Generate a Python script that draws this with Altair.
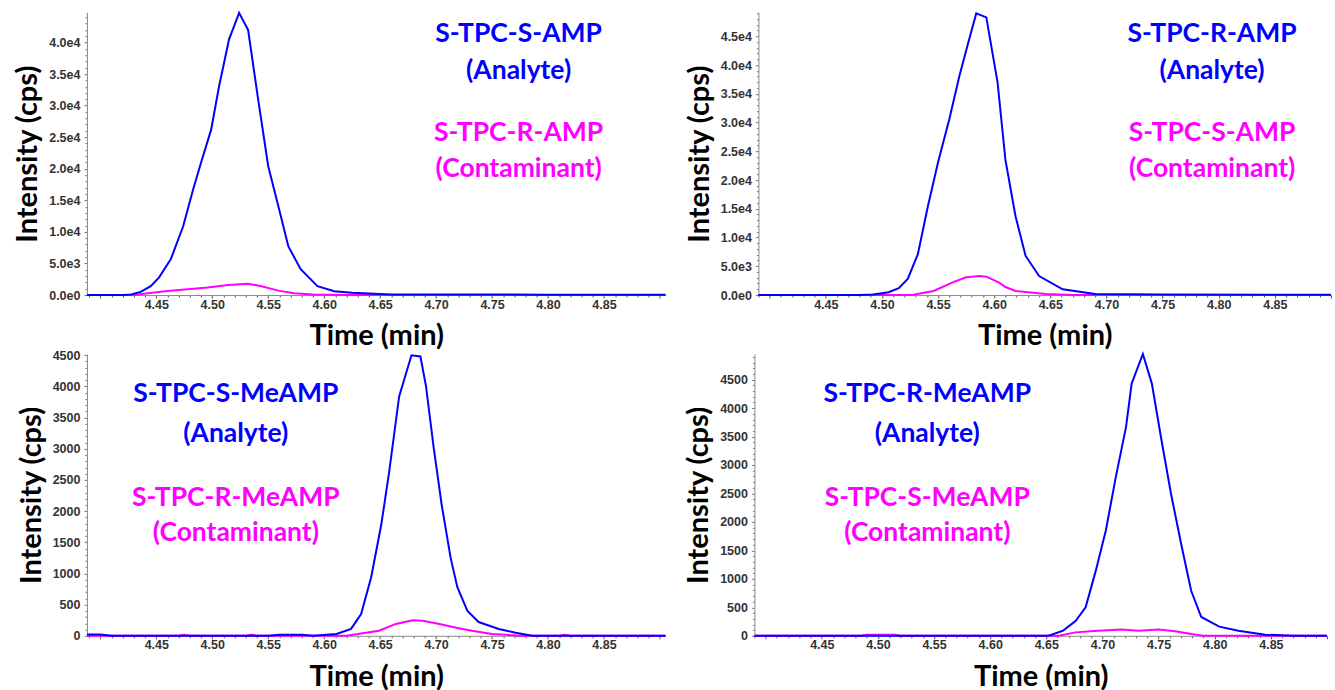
import altair as alt
import pandas as pd

# ---------------- data ----------------
# Panel 1: S-TPC-S-AMP (analyte) / S-TPC-R-AMP (contaminant)
p1_blue_t = [4.388, 4.42, 4.4275, 4.436, 4.445, 4.4525, 4.463, 4.474, 4.483, 4.49, 4.499, 4.506,
             4.515, 4.524, 4.532, 4.541, 4.55, 4.559, 4.568, 4.579, 4.594, 4.609, 4.625, 4.64,
             4.66, 4.70, 4.80, 4.905]
p1_blue_v = [0, 0, 100, 500, 1400, 2800, 5700, 10900, 16800, 21000, 26200, 33000,
             40500, 44700, 42000, 31000, 20400, 14100, 7700, 4100, 1400, 600, 350, 250,
             100, 80, 60, 50]
p1_pink_t = [4.388, 4.43, 4.448, 4.46, 4.478, 4.496, 4.514, 4.532, 4.544, 4.559, 4.573, 4.59, 4.62, 4.905]
p1_pink_v = [0, 0, 400, 650, 900, 1200, 1600, 1800, 1400, 700, 300, 80, 0, 0]

# Panel 2: S-TPC-R-AMP (analyte) / S-TPC-S-AMP (contaminant)
p2_blue_t = [4.39, 4.48, 4.492, 4.506, 4.515, 4.523, 4.532, 4.541, 4.55, 4.56, 4.569, 4.577,
             4.584, 4.593, 4.603, 4.61, 4.619, 4.628, 4.64, 4.661, 4.69, 4.75, 4.90]
p2_blue_v = [0, 0, 100, 500, 1200, 2800, 7100, 15500, 23100, 30600, 38100, 44000,
             49000, 48300, 37000, 23500, 13700, 6800, 3300, 1000, 200, 80, 50]
p2_pink_t = [4.39, 4.52, 4.528, 4.546, 4.563, 4.575, 4.587, 4.593, 4.604, 4.61, 4.619, 4.646, 4.67, 4.90]
p2_pink_v = [0, 0, 50, 700, 2200, 3100, 3300, 3200, 2200, 1400, 700, 170, 0, 0]

# Panel 3: S-TPC-S-MeAMP (analyte) / S-TPC-R-MeAMP (contaminant)
p3_blue_t = [4.388, 4.40, 4.41, 4.55, 4.56, 4.58, 4.59, 4.611, 4.624, 4.633, 4.642, 4.651, 4.658,
             4.667, 4.673, 4.678, 4.686, 4.691, 4.698, 4.705, 4.713, 4.719, 4.728, 4.738,
             4.756, 4.771, 4.786, 4.905]
p3_blue_v = [20, 20, 0, 0, 15, 15, 0, 30, 110, 350, 940, 1780, 2620,
             3840, 4200, 4500, 4480, 4000, 3000, 2100, 1250, 780, 400, 220,
             110, 50, 0, 0]
p3_pink_t = [4.388, 4.47, 4.475, 4.48, 4.53, 4.535, 4.54, 4.62, 4.649, 4.664, 4.679, 4.688,
             4.703, 4.718, 4.732, 4.75, 4.775, 4.81, 4.815, 4.82, 4.905]
p3_pink_v = [0, 0, 15, 0, 0, 15, 0, 0, 80, 190, 250, 240, 190, 130, 80, 30, 0, 0, 15, 0, 0]

# Panel 4: S-TPC-R-MeAMP (analyte) / S-TPC-S-MeAMP (contaminant)
p4_blue_t = [4.39, 4.652, 4.665, 4.676, 4.685, 4.694, 4.703, 4.712, 4.721, 4.726, 4.736, 4.744,
             4.752, 4.761, 4.77, 4.779, 4.788, 4.804, 4.821, 4.845, 4.87, 4.90]
p4_blue_v = [0, 0, 90, 260, 500, 1140, 1850, 2800, 3670, 4430, 4950, 4430,
             3500, 2500, 1620, 790, 330, 160, 90, 20, 0, 0]
p4_pink_t = [4.39, 4.485, 4.49, 4.515, 4.52, 4.661, 4.676, 4.696, 4.717, 4.732, 4.75, 4.765, 4.779, 4.79, 4.90]
p4_pink_v = [0, 0, 20, 20, 0, 0, 60, 90, 110, 90, 110, 80, 30, 0, 0]

labels_top_left = ["S-TPC-S-AMP", "(Analyte)", "S-TPC-R-AMP", "(Contaminant)"]
labels_top_right = ["S-TPC-R-AMP", "(Analyte)", "S-TPC-S-AMP", "(Contaminant)"]
labels_bot_left = ["S-TPC-S-MeAMP", "(Analyte)", "S-TPC-R-MeAMP", "(Contaminant)"]
labels_bot_right = ["S-TPC-R-MeAMP", "(Analyte)", "S-TPC-S-MeAMP", "(Contaminant)"]

x_ticks = [round(4.39 + 0.01 * i, 2) for i in range(52)]
y_ticks_top1 = list(range(0, 45000, 1000))
y_ticks_top2 = list(range(0, 50000, 1000))
y_ticks_bot = list(range(0, 5000, 100))

# ---------------- styling ----------------
BLUE = "#0000FF"
MAGENTA = "#FF00FF"
TITLE_FONT = "Lato"
TICK_FONT = "Liberation Sans"

x_major = "abs(datum.value*20 - round(datum.value*20)) < 0.001"
x_label = "(" + x_major + " && datum.value > 4.42 && datum.value < 4.88) ? format(datum.value, '.2f') : ''"


def y_label_expr(step, sci):
    if sci:
        return ("datum.value % " + str(step) + " == 0 ? (datum.value == 0 ? '0.0e0' : "
                "(datum.value < 10000 ? format(datum.value/1000, '.1f') + 'e3' : "
                "format(datum.value/10000, '.1f') + 'e4')) : ''")
    return "datum.value % " + str(step) + " == 0 ? format(datum.value, 'd') : ''"


def panel(bt, bv, pt, pv, xdom, ymax, w, h, yticks, ystep, sci, texts, cx, ys):
    xaxis = alt.Axis(
        title="Time (min)", values=x_ticks, labelExpr=x_label,
        tickSize={"condition": {"test": x_major, "value": 3}, "value": 2},
        labelFont=TICK_FONT, labelFontSize=12.5, labelFontWeight="bold", labelColor="#333333",
        labelPadding=0, titleFont=TITLE_FONT, titleFontSize=29, titleFontWeight="bold",
        titleColor="black", titlePadding=11, domainColor="#8a8a8a", tickColor="#555555",
        grid=False,
    )
    yaxis = alt.Axis(
        title="Intensity (cps)", values=yticks, labelExpr=y_label_expr(ystep, sci),
        tickSize={"condition": {"test": "datum.value % " + str(ystep) + " == 0", "value": 3}, "value": 2},
        labelFont=TICK_FONT, labelFontSize=12.5, labelFontWeight="bold", labelColor="#333333",
        labelPadding=4, titleFont=TITLE_FONT, titleFontSize=29, titleFontWeight="bold",
        titleColor="black", titlePadding=6, domainColor="#8a8a8a", tickColor="#777777",
        grid=False,
    )
    xs = alt.Scale(domain=xdom, nice=False, zero=False)
    yscale = alt.Scale(domain=[0, ymax], nice=False)
    dfb = pd.DataFrame({"t": bt, "v": bv})
    dfp = pd.DataFrame({"t": pt, "v": pv})
    pink = alt.Chart(dfp).mark_line(color=MAGENTA, strokeWidth=2).encode(
        x=alt.X("t:Q", scale=xs, axis=xaxis),
        y=alt.Y("v:Q", scale=yscale, axis=yaxis),
    )
    blue = alt.Chart(dfb).mark_line(color=BLUE, strokeWidth=2).encode(
        x=alt.X("t:Q", scale=xs, axis=xaxis),
        y=alt.Y("v:Q", scale=yscale, axis=yaxis),
    )
    layers = [pink, blue]
    colors = [BLUE, BLUE, MAGENTA, MAGENTA]
    for txt, col, yy in zip(texts, colors, ys):
        layers.append(
            alt.Chart(alt.Data(values=[{"a": 1}])).mark_text(
                font=TITLE_FONT, fontSize=26.5, fontWeight="bold", color=col,
                align="center", baseline="middle",
            ).encode(x=alt.value(cx), y=alt.value(yy), text=alt.value(txt))
        )
    return alt.layer(*layers).properties(width=w, height=h)


ys_top = [22, 59, 121, 157]
ys_bot = [40, 80, 144, 179]

c1 = panel(p1_blue_t, p1_blue_v, p1_pink_t, p1_pink_v, [4.388, 4.905], 44800, 579, 283,
           y_ticks_top1, 5000, True, labels_top_left, 432, ys_top)
c2 = panel(p2_blue_t, p2_blue_v, p2_pink_t, p2_pink_v, [4.39, 4.90], 49200, 573, 283,
           y_ticks_top2, 5000, True, labels_top_right, 454, ys_top)
c3 = panel(p3_blue_t, p3_blue_v, p3_pink_t, p3_pink_v, [4.388, 4.905], 4520, 579, 282,
           y_ticks_bot, 500, False, labels_bot_left, 149, ys_bot)
c4 = panel(p4_blue_t, p4_blue_v, p4_pink_t, p4_pink_v, [4.39, 4.90], 4950, 573, 282,
           y_ticks_bot, 500, False, labels_bot_right, 173, ys_bot)

chart = alt.vconcat(
    alt.hconcat(c1, c2, spacing=15),
    alt.hconcat(c3, c4, spacing=15),
    spacing=-2,
).properties(
    padding={"left": 13, "top": 8, "right": 0, "bottom": 0},
    background="white",
).configure_view(stroke=None)

chart.save("out.html", embed_options={"renderer": "svg", "actions": False})
